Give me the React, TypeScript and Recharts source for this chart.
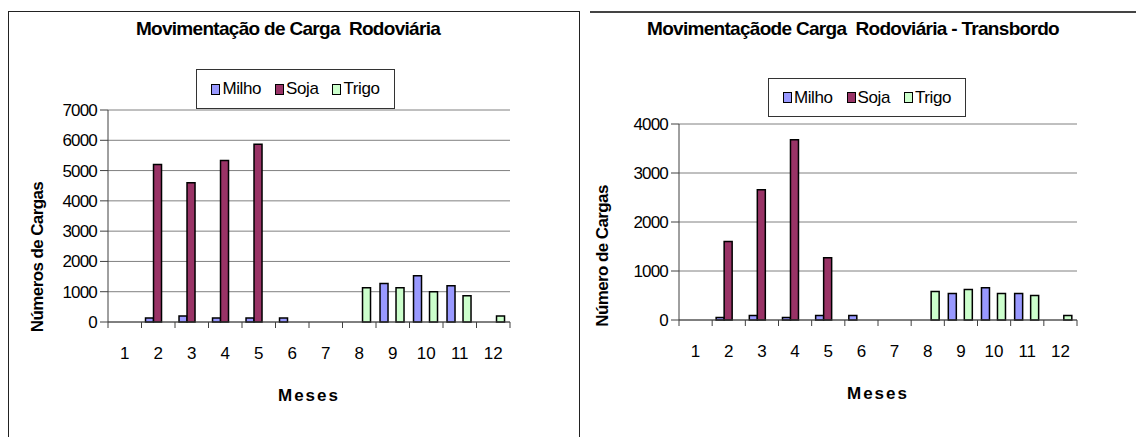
import React from 'react';
import { BarChart, Bar, XAxis, YAxis, CartesianGrid, Legend } from 'recharts';

const meses = ['1', '2', '3', '4', '5', '6', '7', '8', '9', '10', '11', '12'];

// Movimentação de Carga Rodoviária
const milhoRodoviaria = [0, 130, 200, 130, 130, 130, 0, 0, 1270, 1530, 1200, 0];
const sojaRodoviaria = [0, 5200, 4600, 5330, 5870, 0, 0, 0, 0, 0, 0, 0];
const trigoRodoviaria = [0, 0, 0, 0, 0, 0, 0, 1130, 1130, 1000, 870, 200];
const ticksRodoviaria = [0, 1000, 2000, 3000, 4000, 5000, 6000, 7000];

// Movimentação de Carga Rodoviária - Transbordo
const milhoTransbordo = [0, 50, 90, 50, 90, 90, 0, 0, 540, 660, 540, 0];
const sojaTransbordo = [0, 1600, 2660, 3680, 1270, 0, 0, 0, 0, 0, 0, 0];
const trigoTransbordo = [0, 0, 0, 0, 0, 0, 0, 580, 620, 540, 500, 90];
const ticksTransbordo = [0, 1000, 2000, 3000, 4000];

const series = [
  { key: 'Milho', color: '#9999FF' },
  { key: 'Soja', color: '#993366' },
  { key: 'Trigo', color: '#CCFFCC' },
];

const FONT = "'Liberation Sans', Arial, sans-serif";

const buildRows = (milho: number[], soja: number[], trigo: number[]) =>
  meses.map((mes, i) => ({ mes, Milho: milho[i], Soja: soja[i], Trigo: trigo[i] }));

const MonthTick = ({ x, y, payload, step }: any) => (
  <g>
    <line x1={x - step / 2} x2={x - step / 2} y1={y} y2={y + 6} stroke="#404040" />
    {payload.value === meses[meses.length - 1] && (
      <line x1={x + step / 2} x2={x + step / 2} y1={y} y2={y + 6} stroke="#404040" />
    )}
    <text x={x} y={y + 37} textAnchor="middle" fontSize={17} fontFamily={FONT} fill="#000">
      {payload.value}
    </text>
  </g>
);

const LegendBox = ({ payload }: any) => (
  <div
    style={{
      boxSizing: 'border-box',
      width: '100%',
      height: '100%',
      border: '1px solid #333',
      background: '#fff',
      display: 'flex',
      alignItems: 'center',
      justifyContent: 'center',
      gap: 14,
      fontFamily: FONT,
      fontSize: 17,
      letterSpacing: -0.4,
    }}
  >
    {(payload || []).map((p: any) => (
      <span key={p.value} style={{ display: 'flex', alignItems: 'center' }}>
        <span
          style={{
            display: 'inline-block',
            width: 7,
            height: 9,
            background: p.color,
            border: '1.5px solid #000',
            marginRight: 2,
          }}
        />
        {p.value}
      </span>
    ))}
  </div>
);

interface ChartProps {
  title: string;
  yLabel: string;
  data: any[];
  ticks: number[];
  left: number;
  width: number;
  margin: { top: number; right: number; left: number; bottom: number };
  titleX: number;
  legendBox: { left: number; top: number; width: number; height: number };
  yLabelPos: { x: number; y: number };
}

const CargaChart: React.FC<ChartProps> = ({
  title, yLabel, data, ticks, left, width, margin, titleX, legendBox, yLabelPos,
}) => {
  const yAxisWidth = 68;
  const plotWidth = width - margin.left - margin.right - yAxisWidth;
  const step = plotWidth / meses.length;
  const max = ticks[ticks.length - 1];

  return (
    <>
      <div
        style={{
          position: 'absolute',
          left: titleX - 250,
          width: 500,
          top: 18,
          textAlign: 'center',
          fontFamily: FONT,
          fontWeight: 'bold',
          fontSize: 19,
          letterSpacing: -0.7,
          whiteSpace: 'pre',
        }}
      >
        {title}
      </div>
      <div style={{ position: 'absolute', left, top: 0 }}>
        <BarChart width={width} height={437} data={data} margin={margin} barCategoryGap="12%" barGap={0}>
          <CartesianGrid vertical={false} stroke="#808080" />
          <XAxis
            dataKey="mes"
            interval={0}
            height={70}
            tickLine={false}
            tickSize={0}
            tickMargin={0}
            axisLine={{ stroke: '#404040' }}
            tick={<MonthTick step={step} />}
            label={({ viewBox }: any) => (
              <text
                x={viewBox.x + viewBox.width / 2}
                y={viewBox.y + 79}
                textAnchor="middle"
                fontFamily={FONT}
                fontWeight="bold"
                fontSize={17}
                letterSpacing={2}
              >
                Meses
              </text>
            )}
          />
          <YAxis
            width={yAxisWidth}
            domain={[0, max]}
            ticks={ticks}
            interval={0}
            tickSize={8}
            tickMargin={3}
            axisLine={{ stroke: '#404040' }}
            tickLine={{ stroke: '#404040' }}
            tick={{ fill: '#000', fontSize: 17, fontFamily: FONT, letterSpacing: -0.8 }}
            label={() => (
              <text
                x={yLabelPos.x + 6}
                y={yLabelPos.y}
                transform={`rotate(-90, ${yLabelPos.x + 6}, ${yLabelPos.y})`}
                textAnchor="middle"
                fontFamily={FONT}
                fontWeight="bold"
                fontSize={17}
                letterSpacing={-0.6}
              >
                {yLabel}
              </text>
            )}
          />
          <YAxis
            yAxisId="frame"
            orientation="right"
            width={0}
            domain={[0, max]}
            tick={false}
            tickLine={false}
            axisLine={{ stroke: '#808080' }}
          />
          <Legend
            layout="horizontal"
            verticalAlign="middle"
            align="center"
            content={<LegendBox />}
            wrapperStyle={{
              position: 'absolute',
              left: legendBox.left - left,
              top: legendBox.top,
              width: legendBox.width,
              height: legendBox.height,
            }}
          />
          {series.map((s) => (
            <Bar
              key={s.key}
              dataKey={s.key}
              name={s.key}
              fill={s.color}
              stroke="#000"
              strokeWidth={1.5}
              isAnimationActive={false}
            />
          ))}
        </BarChart>
      </div>
    </>
  );
};

export default function App() {
  const rodoviaria = buildRows(milhoRodoviaria, sojaRodoviaria, trigoRodoviaria);
  const transbordo = buildRows(milhoTransbordo, sojaTransbordo, trigoTransbordo);

  return (
    <div
      style={{
        position: 'absolute',
        left: 0,
        top: 0,
        width: 1136,
        height: 437,
        background: '#fff',
        overflow: 'hidden',
      }}
    >
      <div
        style={{
          position: 'absolute',
          left: 8,
          top: 11,
          width: 570,
          height: 440,
          borderLeft: '1px solid #222',
          borderTop: '1px solid #222',
          borderRight: '1px solid #222',
        }}
      />
      <div
        style={{
          position: 'absolute',
          left: 590,
          top: 11,
          width: 546,
          borderTop: '2px solid #444',
        }}
      />
      <CargaChart
        title="Movimentação de Carga  Rodoviária"
        yLabel="Números de  Cargas"
        data={rodoviaria}
        ticks={ticksRodoviaria}
        left={0}
        width={578}
        margin={{ top: 110, right: 68, left: 40, bottom: 45 }}
        titleX={288}
        legendBox={{ left: 196, top: 69, width: 199, height: 40 }}
        yLabelPos={{ x: 37, y: 257 }}
      />
      <CargaChart
        title="Movimentaçãode Carga  Rodoviária - Transbordo"
        yLabel="Número de Cargas"
        data={transbordo}
        ticks={ticksTransbordo}
        left={590}
        width={546}
        margin={{ top: 124, right: 59, left: 21, bottom: 47 }}
        titleX={853}
        legendBox={{ left: 768, top: 78, width: 198, height: 39 }}
        yLabelPos={{ x: 12, y: 256 }}
      />
    </div>
  );
}
